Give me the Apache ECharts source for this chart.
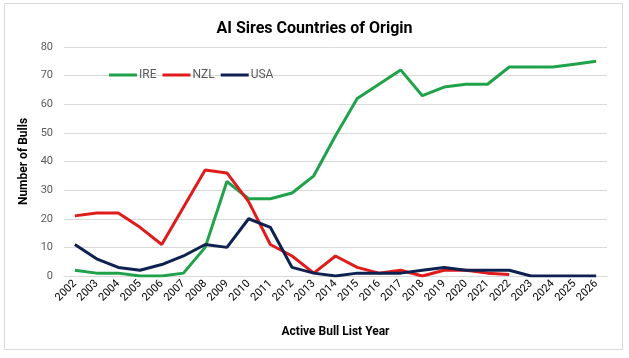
<!DOCTYPE html>
<html><head><meta charset="utf-8">
<script src="https://cdn.jsdelivr.net/npm/echarts@6/dist/echarts.min.js"></script>
<style>html,body{margin:0;padding:0;background:#fff}#c{width:629px;height:358px}</style>
</head><body><div id="c"></div>
<script>
const years = ['2002','2003','2004','2005','2006','2007','2008','2009','2010','2011','2012','2013','2014','2015','2016','2017','2018','2019','2020','2021','2022','2023','2024','2025','2026'];
const ire = [2,1,1,0,0,1,10,33,27,27,29,35,49,62,67,72,63,66,67,67,73,73,73,74,75];
const nzl = [21,22,22,17,11,24,37,36,26,11,7,1,7,3,1,2,0,2,2,1,0.5,null,null,null,null];
const usa = [11,6,3,2,4,7,11,10,20,17,3,1,0,1,1,1,2,3,2,2,2,0,0,0,0];
const yTicks = [0,10,20,30,40,50,60,70,80];

const chart = echarts.init(document.getElementById('c'));
const font = 'Roboto, "Liberation Sans", sans-serif';
chart.setOption({
  animation:false,
  backgroundColor:'#fff',
  graphic:[{type:'rect',shape:{x:4.5,y:3.5,width:618,height:346},style:{fill:'none',stroke:'#d9d9d9',lineWidth:1},silent:true}],
  title:{text:'AI Sires Countries of Origin',left:'center',top:16,textStyle:{fontFamily:font,fontSize:16,fontWeight:'bold',color:'#000'}},
  legend:{left:104,top:64,itemWidth:28,itemHeight:3,itemGap:6,icon:'rect',
    textStyle:{fontFamily:font,fontSize:12,color:'#595959',padding:[0,0,0,-3]},
    data:['IRE','NZL','USA']},
  grid:{left:64,right:22,top:47,bottom:82},
  xAxis:{type:'category',data:years,boundaryGap:true,
    name:'Active Bull List Year',nameLocation:'middle',nameGap:50,
    nameTextStyle:{fontFamily:font,fontSize:12,fontWeight:'bold',color:'#000'},
    axisLine:{lineStyle:{color:'#d9d9d9'}},axisTick:{show:false},
    axisLabel:{rotate:45,interval:0,fontFamily:font,fontSize:11,color:'#000',margin:6}},
  yAxis:{type:'value',min:0,max:80,interval:10,
    name:'Number of Bulls',nameLocation:'middle',nameGap:34,
    nameTextStyle:{fontFamily:font,fontSize:12,fontWeight:'bold',color:'#000'},
    axisLine:{show:false},axisTick:{show:false},
    splitLine:{lineStyle:{color:'#d9d9d9'}},
    axisLabel:{fontFamily:font,fontSize:11,color:'#595959',margin:11}},
  series:[
    {name:'IRE',type:'line',data:ire,symbol:'none',lineStyle:{width:3,color:'#1fa24a'},itemStyle:{color:'#1fa24a'}},
    {name:'NZL',type:'line',data:nzl,symbol:'none',lineStyle:{width:3,color:'#e01b1b'},itemStyle:{color:'#e01b1b'}},
    {name:'USA',type:'line',data:usa,symbol:'none',lineStyle:{width:3,color:'#0e2150'},itemStyle:{color:'#0e2150'}}
  ]
});
</script></body></html>
